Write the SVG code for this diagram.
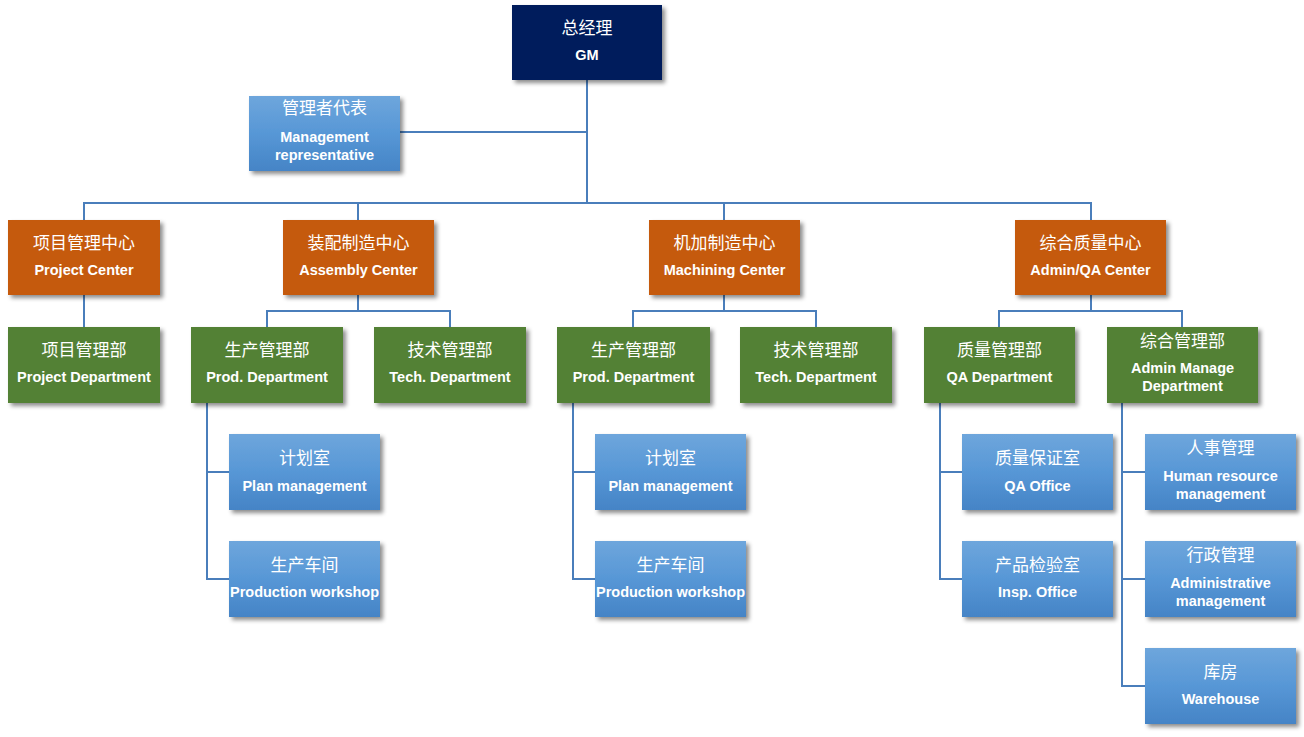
<svg xmlns="http://www.w3.org/2000/svg" width="1304" height="737" viewBox="0 0 1304 737">
<defs>
<linearGradient id="blueGrad" x1="0" y1="0" x2="0" y2="1">
<stop offset="0" stop-color="#6EA6DC"/>
<stop offset="0.5" stop-color="#5797D6"/>
<stop offset="1" stop-color="#4584C6"/>
</linearGradient>
<filter id="shadow" x="-10%" y="-10%" width="125%" height="130%">
<feDropShadow dx="3" dy="3" stdDeviation="2" flood-color="#000" flood-opacity="0.45"/>
</filter>
</defs>
<style>
.box{filter:url(#shadow);}
.navy{fill:#011E5B;}
.orange{fill:#C55A11;}
.green{fill:#538135;}
.blue{fill:url(#blueGrad);}
.zh{font-family:"Noto Sans CJK SC",sans-serif;font-size:17px;fill:#fff;text-anchor:middle;}
.en{font-family:"Liberation Sans",Arial,sans-serif;font-weight:bold;font-size:14.5px;fill:#fff;text-anchor:middle;}
.conn{fill:none;stroke:#4A7EBB;stroke-width:2;}
</style>
<rect width="1304" height="737" fill="#fff"/>
<g id="connectors" class="conn">
<path d="M587 80 V203"/>
<path d="M400 132 H587"/>
<path d="M84 220 V203 H1091 V220"/>
<path d="M358 203 V220"/>
<path d="M724 203 V220"/>
<path d="M84 295 V327"/>
<path d="M358 295 V311 M267 327 V311 H450 V327"/>
<path d="M724 295 V311 M633 327 V311 H816 V327"/>
<path d="M1091 295 V311 M999 327 V311 H1182 V327"/>
<path d="M207 403 V579 H229 M207 472 H229"/>
<path d="M573 403 V579 H595 M573 472 H595"/>
<path d="M940 403 V579 H962 M940 472 H962"/>
<path d="M1122 403 V686 H1145 M1122 472 H1145 M1122 579 H1145"/>
</g>
<g id="gm"><rect class="box navy" x="512" y="5" width="150" height="75"/><text class="zh" x="587" y="34">总经理</text><text class="en" x="587" y="60">GM</text></g>
<g id="mgmt-rep"><rect class="box blue" x="249" y="96" width="151" height="75"/><text class="zh" x="324.5" y="114">管理者代表</text><text class="en" x="324.5" y="142">Management</text><text class="en" x="324.5" y="160">representative</text></g>
<g id="project-center"><rect class="box orange" x="8" y="220" width="152" height="75"/><text class="zh" x="84" y="249">项目管理中心</text><text class="en" x="84" y="275">Project Center</text></g>
<g id="assembly-center"><rect class="box orange" x="283" y="220" width="151" height="75"/><text class="zh" x="358.5" y="249">装配制造中心</text><text class="en" x="358.5" y="275">Assembly Center</text></g>
<g id="machining-center"><rect class="box orange" x="649" y="220" width="151" height="75"/><text class="zh" x="724.5" y="249">机加制造中心</text><text class="en" x="724.5" y="275">Machining Center</text></g>
<g id="admin-qa-center"><rect class="box orange" x="1015" y="220" width="151" height="75"/><text class="zh" x="1090.5" y="249">综合质量中心</text><text class="en" x="1090.5" y="275">Admin/QA Center</text></g>
<g id="project-dept"><rect class="box green" x="8" y="327" width="152" height="76"/><text class="zh" x="84" y="356">项目管理部</text><text class="en" x="84" y="382">Project Department</text></g>
<g id="prod-dept-1"><rect class="box green" x="191" y="327" width="152" height="76"/><text class="zh" x="267" y="356">生产管理部</text><text class="en" x="267" y="382">Prod. Department</text></g>
<g id="tech-dept-1"><rect class="box green" x="374" y="327" width="152" height="76"/><text class="zh" x="450" y="356">技术管理部</text><text class="en" x="450" y="382">Tech. Department</text></g>
<g id="prod-dept-2"><rect class="box green" x="557" y="327" width="153" height="76"/><text class="zh" x="633.5" y="356">生产管理部</text><text class="en" x="633.5" y="382">Prod. Department</text></g>
<g id="tech-dept-2"><rect class="box green" x="740" y="327" width="152" height="76"/><text class="zh" x="816" y="356">技术管理部</text><text class="en" x="816" y="382">Tech. Department</text></g>
<g id="qa-dept"><rect class="box green" x="924" y="327" width="151" height="76"/><text class="zh" x="999.5" y="356">质量管理部</text><text class="en" x="999.5" y="382">QA Department</text></g>
<g id="admin-manage-dept"><rect class="box green" x="1107" y="327" width="151" height="76"/><text class="zh" x="1182.5" y="347">综合管理部</text><text class="en" x="1182.5" y="373">Admin Manage</text><text class="en" x="1182.5" y="391">Department</text></g>
<g id="plan-1"><rect class="box blue" x="229" y="434" width="151" height="76"/><text class="zh" x="304.5" y="464">计划室</text><text class="en" x="304.5" y="491">Plan management</text></g>
<g id="workshop-1"><rect class="box blue" x="229" y="541" width="151" height="76"/><text class="zh" x="304.5" y="571">生产车间</text><text class="en" x="304.5" y="597">Production workshop</text></g>
<g id="plan-2"><rect class="box blue" x="595" y="434" width="151" height="76"/><text class="zh" x="670.5" y="464">计划室</text><text class="en" x="670.5" y="491">Plan management</text></g>
<g id="workshop-2"><rect class="box blue" x="595" y="541" width="151" height="76"/><text class="zh" x="670.5" y="571">生产车间</text><text class="en" x="670.5" y="597">Production workshop</text></g>
<g id="qa-office"><rect class="box blue" x="962" y="434" width="151" height="76"/><text class="zh" x="1037.5" y="464">质量保证室</text><text class="en" x="1037.5" y="491">QA Office</text></g>
<g id="insp-office"><rect class="box blue" x="962" y="541" width="151" height="76"/><text class="zh" x="1037.5" y="571">产品检验室</text><text class="en" x="1037.5" y="597">Insp. Office</text></g>
<g id="hr"><rect class="box blue" x="1145" y="434" width="151" height="76"/><text class="zh" x="1220.5" y="454">人事管理</text><text class="en" x="1220.5" y="481">Human resource</text><text class="en" x="1220.5" y="499">management</text></g>
<g id="admin-mgmt"><rect class="box blue" x="1145" y="541" width="151" height="76"/><text class="zh" x="1220.5" y="561">行政管理</text><text class="en" x="1220.5" y="588">Administrative</text><text class="en" x="1220.5" y="606">management</text></g>
<g id="warehouse"><rect class="box blue" x="1145" y="648" width="151" height="76"/><text class="zh" x="1220.5" y="678">库房</text><text class="en" x="1220.5" y="704">Warehouse</text></g>
</svg>
